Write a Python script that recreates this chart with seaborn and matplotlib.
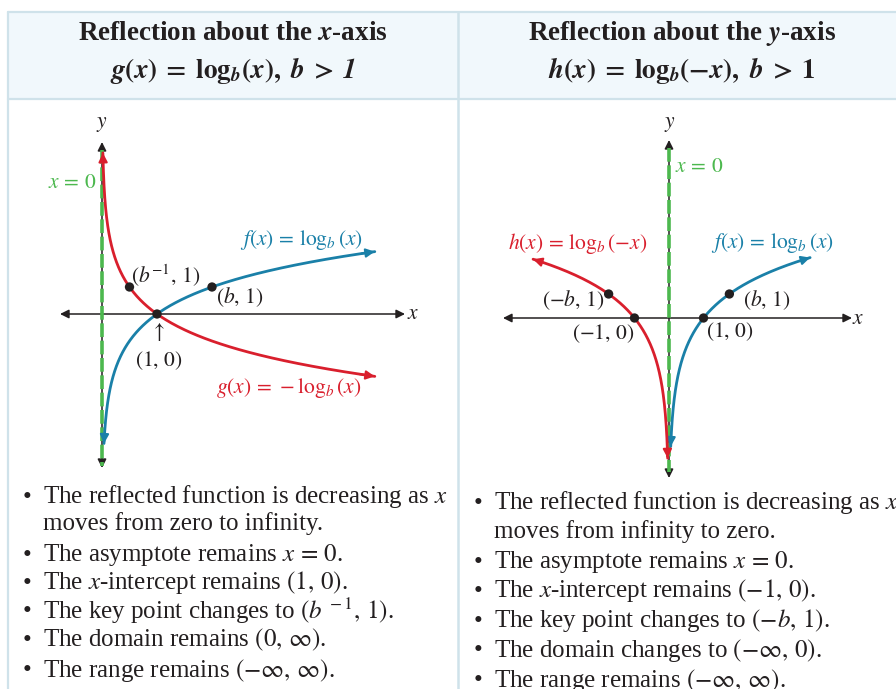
import numpy as np
import pandas as pd
import matplotlib
matplotlib.use("Agg")
import matplotlib.pyplot as plt
import seaborn as sns

# ---------------- data ----------------
left_base = 2.0                      # b used in the left graph
left_f_domain = (0.036, 4.96)        # f(x)=log_b(x) drawn range
left_g_domain = (0.016, 4.96)        # g(x)=-log_b(x) drawn range
left_key_x = [1.0, left_base, 1.0 / left_base]
left_key_y = [0.0, 1.0, 1.0]

right_base = 1.75                    # b used in the right graph
right_f_domain = (0.05, 4.09)        # f(x)=log_b(x)
right_h_domain = (-3.94, -0.038)     # h(x)=log_b(-x)
right_key_x = [1.0, right_base, -1.0, -right_base]
right_key_y = [0.0, 1.0, 0.0, 1.0]

left_bullets = [
    r"The reflected function is decreasing as $x$",
    r"moves from zero to infinity.",
    r"The asymptote remains $x\,=\,0$.",
    r"The $x$-intercept remains $(1,\,0)$.",
    r"The key point changes to $(b^{\,-1},\,1)$.",
    r"The domain remains $(0,\,\infty)$.",
    r"The range remains $(-\infty,\,\infty)$.",
]
right_bullets = [
    r"The reflected function is decreasing as $x$",
    r"moves from infinity to zero.",
    r"The asymptote remains $x\,=\,0$.",
    r"The $x$-intercept remains $(-1,\,0)$.",
    r"The key point changes to $(-b,\,1)$.",
    r"The domain changes to $(-\infty,\,0)$.",
    r"The range remains $(-\infty,\,\infty)$.",
]
bullet_has_dot = [True, False, True, True, True, True, True]

# ---------------- style ----------------
sns.set_theme(style="white")
plt.rcParams['font.family'] = ['Liberation Serif', 'DejaVu Serif']
plt.rcParams['mathtext.fontset'] = 'stix'

RED = "#d91f2d"
BLUE = "#1a80a8"
GREEN = "#4cb84e"
INK = "#231f20"
BORDER = "#cfe2ea"
HEADFILL = "#f1f8fc"

W, H = 896, 689
fig = plt.figure(figsize=(W / 100, H / 100), dpi=100)
fig.patch.set_facecolor("white")

def fx(px):
    return px / W

def fy(py):
    return 1 - py / H

# ---------------- table frame ----------------
bg = fig.add_axes([0, 0, 1, 1])
bg.set_xlim(0, W)
bg.set_ylim(H, 0)
bg.axis("off")
bg.add_patch(plt.Rectangle((8, 12), W, 87, facecolor=HEADFILL, edgecolor="none", zorder=0))
bg.plot([8, W], [12, 12], color=BORDER, lw=1.6)
bg.plot([8, W], [99, 99], color=BORDER, lw=1.6)
bg.plot([8, 8], [12, H], color=BORDER, lw=1.6)
bg.plot([458, 458], [12, H], color=BORDER, lw=1.8)

# ---------------- headers ----------------
hs = 19.5
fig.text(fx(233), fy(33), r"Reflection about the $\mathbfit{x}$-axis", ha="center", va="center",
         fontsize=hs, fontweight="bold", color=INK)
fig.text(fx(233), fy(70),
         r"$\mathbfit{g}\mathbf{(}\mathbfit{x}\mathbf{)}\;\mathbf{=}\;\mathbf{log}_{\mathbfit{b}}\mathbf{(}\mathbfit{x}\mathbf{),}\ \mathbfit{b}\;\mathbf{>}\;\mathbfit{1}$",
         ha="center", va="center", fontsize=hs, color=INK)
fig.text(fx(682), fy(33), r"Reflection about the $\mathbfit{y}$-axis", ha="center", va="center",
         fontsize=hs, fontweight="bold", color=INK)
fig.text(fx(682), fy(70),
         r"$\mathbfit{h}\mathbf{(}\mathbfit{x}\mathbf{)}\;\mathbf{=}\;\mathbf{log}_{\mathbfit{b}}\mathbf{(-}\mathbfit{x}\mathbf{),}\ \mathbfit{b}\;\mathbf{>}\;\mathbf{1}$",
         ha="center", va="center", fontsize=hs, color=INK)

# ---------------- graph helpers ----------------
def graph_axes(rect, origin, unit):
    l, t, r, b = rect
    ox, oy = origin
    ux, uy = unit
    ax = fig.add_axes([l / W, 1 - b / H, (r - l) / W, (b - t) / H])
    ax.set_xlim((l - ox) / ux, (r - ox) / ux)
    ax.set_ylim((oy - b) / uy, (oy - t) / uy)
    ax.axis("off")
    ax.patch.set_alpha(0)
    conv = lambda px, py: ((px - ox) / ux, (oy - py) / uy)
    return ax, conv

def axis_arrows(ax, conv, xspan, yspan, oy_px, ox_px):
    x0, _ = conv(xspan[0], oy_px)
    x1, _ = conv(xspan[1], oy_px)
    _, y0 = conv(ox_px, yspan[1])
    _, y1 = conv(ox_px, yspan[0])
    ap = dict(arrowstyle="<|-|>", color=INK, lw=1.1, mutation_scale=13, shrinkA=0, shrinkB=0)
    ax.annotate("", xy=(x1, 0), xytext=(x0, 0), arrowprops=ap, zorder=1)
    ax.annotate("", xy=(0, y1), xytext=(0, y0), arrowprops=ap, zorder=1)
    return y0, y1

def asymptote(ax, y0, y1):
    sns.lineplot(x=[0, 0], y=[y0, y1], ax=ax, color=GREEN, lw=2.6, sort=False,
                 estimator=None, zorder=2)
    ax.lines[-1].set_dashes([3.8, 1.0])

def curve(ax, xs, ys, color, heads):
    sns.lineplot(x=xs, y=ys, ax=ax, color=color, lw=2.0, sort=False, estimator=None, zorder=3)
    ap = dict(arrowstyle="-|>", color=color, lw=1.5, mutation_scale=13, shrinkA=0, shrinkB=0)
    if "start" in heads:
        ax.annotate("", xy=(xs[0], ys[0]), xytext=(xs[4], ys[4]), arrowprops=ap, zorder=3)
    if "end" in heads:
        ax.annotate("", xy=(xs[-1], ys[-1]), xytext=(xs[-5], ys[-5]), arrowprops=ap, zorder=3)

def key_points(ax, xs, ys):
    df = pd.DataFrame({"x": xs, "y": ys})
    sns.scatterplot(data=df, x="x", y="y", ax=ax, color=INK, s=45, edgecolor="none", zorder=5)

# ---------------- left graph ----------------
axL, cL = graph_axes((20, 110, 440, 478), (102, 314), (55, 27))
yL0, yL1 = axis_arrows(axL, cL, (60, 405), (142, 468), 314, 102)
asymptote(axL, cL(0, 150)[1], cL(0, 466)[1])

xb = np.geomspace(*left_f_domain, 400)
curve(axL, xb, np.log(xb) / np.log(left_base), BLUE, ("start", "end"))
xr = np.geomspace(*left_g_domain, 400)
curve(axL, xr, -np.log(xr) / np.log(left_base), RED, ("start", "end"))
key_points(axL, left_key_x, left_key_y)

ls = 15.5
fig.text(fx(72), fy(184), r"$x\,=\,0$", color=GREEN, fontsize=ls, ha="center", va="center")
fig.text(fx(102), fy(124), r"$y$", color=INK, fontsize=ls, ha="center", va="center")
fig.text(fx(413), fy(314), r"$x$", color=INK, fontsize=ls, ha="center", va="center")
fig.text(fx(301), fy(240), r"$f(x)\,=\,\log_b(x)$", color=BLUE, fontsize=ls, ha="center", va="center")
fig.text(fx(289), fy(388), r"$g(x)\,=\,-\log_b(x)$", color=RED, fontsize=ls, ha="center", va="center")
fig.text(fx(166), fy(276), r"$(b^{-1},\,1)$", color=INK, fontsize=ls, ha="center", va="center")
fig.text(fx(240), fy(297), r"$(b,\,1)$", color=INK, fontsize=ls, ha="center", va="center")
fig.text(fx(157), fy(332), r"$\uparrow$", color=INK, fontsize=ls, ha="center", va="center")
fig.text(fx(159), fy(361), r"$(1,\,0)$", color=INK, fontsize=ls, ha="center", va="center")

# ---------------- right graph ----------------
axR, cR = graph_axes((480, 110, 880, 482), (669, 318), (34.5, 24))
yR0, yR1 = axis_arrows(axR, cR, (503, 852), (140, 478), 318, 669)
asymptote(axR, cR(0, 148)[1], cR(0, 472)[1])

xb2 = np.geomspace(*right_f_domain, 400)
curve(axR, xb2, np.log(xb2) / np.log(right_base), BLUE, ("start", "end"))
xr2 = -np.geomspace(-right_h_domain[0], -right_h_domain[1], 400)
curve(axR, xr2, np.log(-xr2) / np.log(right_base), RED, ("start", "end"))
key_points(axR, right_key_x, right_key_y)

fig.text(fx(675), fy(168), r"$x\,=\,0$", color=GREEN, fontsize=ls, ha="left", va="center")
fig.text(fx(670), fy(124), r"$y$", color=INK, fontsize=ls, ha="center", va="center")
fig.text(fx(858), fy(319), r"$x$", color=INK, fontsize=ls, ha="center", va="center")
fig.text(fx(578), fy(243), r"$h(x)\,=\,\log_b(-x)$", color=RED, fontsize=ls, ha="center", va="center")
fig.text(fx(772), fy(243), r"$f(x)\,=\,\log_b(x)$", color=BLUE, fontsize=ls, ha="center", va="center")
fig.text(fx(573), fy(300), r"$(-b,\,1)$", color=INK, fontsize=ls, ha="center", va="center")
fig.text(fx(603), fy(334), r"$(-1,\,0)$", color=INK, fontsize=ls, ha="center", va="center")
fig.text(fx(767), fy(300), r"$(b,\,1)$", color=INK, fontsize=ls, ha="center", va="center")
fig.text(fx(730), fy(332), r"$(1,\,0)$", color=INK, fontsize=ls, ha="center", va="center")

# ---------------- bullet lists ----------------
bs = 18
left_rows = [497, 524, 555, 583, 611, 640, 670]
right_rows = [503, 532, 562, 591, 621, 650, 680]
for txt, row, dot in zip(left_bullets, left_rows, bullet_has_dot):
    if dot:
        fig.text(fx(27), fy(row + 1), "•", color=INK, fontsize=bs, ha="center", va="center")
    fig.text(fx(43), fy(row), txt, color=INK, fontsize=bs, ha="left", va="center")
for txt, row, dot in zip(right_bullets, right_rows, bullet_has_dot):
    if dot:
        fig.text(fx(478), fy(row + 1), "•", color=INK, fontsize=bs, ha="center", va="center")
    fig.text(fx(494), fy(row), txt, color=INK, fontsize=bs, ha="left", va="center")

fig.savefig("out.png", dpi=100, facecolor="white")
